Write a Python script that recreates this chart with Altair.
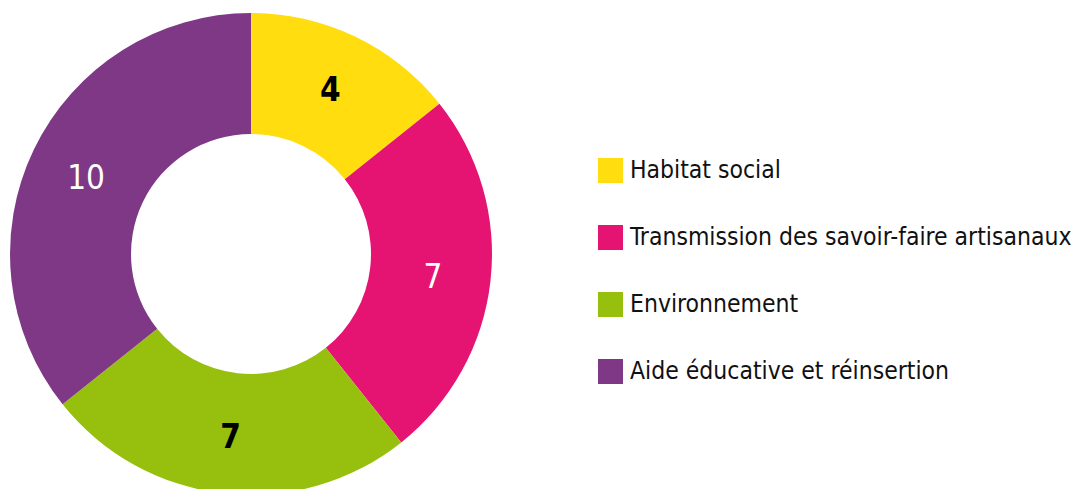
import altair as alt
import pandas as pd

categories = ["Habitat social", "Transmission des savoir-faire artisanaux", "Environnement", "Aide éducative et réinsertion"]
values = [4, 7, 7, 10]
colors = ["#FFDD0F", "#E51473", "#97BF0D", "#7F3886"]
label_colors = ["#000000", "#FFFFFF", "#000000", "#FFFFFF"]
label_weights = ["bold", "normal", "bold", "normal"]

df = pd.DataFrame({
    "cat": categories,
    "value": values,
    "order": list(range(len(values))),
    "tc": label_colors,
    "fw": label_weights,
})

FONT = "DejaVu Sans Condensed, sans-serif"
CX, CY = 243, 246
total = sum(values)

base = alt.Chart(df)

arcs = base.mark_arc(outerRadius=241, innerRadius=120, stroke=None).encode(
    theta=alt.Theta("value:Q", stack=True, scale=alt.Scale(domain=[0, total])),
    order=alt.Order("order:O"),
    color=alt.Color(
        "cat:N",
        scale=alt.Scale(domain=categories, range=colors),
        sort=None,
        legend=alt.Legend(
            title=None,
            orient="none",
            legendX=590,
            legendY=150,
            symbolType="square",
            symbolSize=625,
            symbolStrokeWidth=0,
            symbolOpacity=1,
            labelFont=FONT,
            labelFontSize=24.5,
            labelColor="#111111",
            labelOffset=7,
            rowPadding=41,
            labelLimit=600,
        ),
    ),
    x=alt.value(CX),
    y=alt.value(CY),
)

stacked = base.transform_window(
    cum="sum(value)", sort=[alt.SortField("order")], frame=[None, 0]
).transform_calculate(mid="datum.cum - datum.value / 2")

text_bold = stacked.transform_filter(alt.datum.fw == "bold").mark_text(
    radius=183, font=FONT, fontSize=33, fontWeight="bold", baseline="middle", align="center", dy=2
).encode(
    theta=alt.Theta("mid:Q", stack=False),
    text=alt.Text("value:Q"),
    color=alt.Color("tc:N", scale=None),
    x=alt.value(CX),
    y=alt.value(CY),
)

text_norm = stacked.transform_filter(alt.datum.fw == "normal").mark_text(
    radius=183, font=FONT, fontSize=33, fontWeight="normal", baseline="middle", align="center", dy=4
).encode(
    theta=alt.Theta("mid:Q", stack=False),
    text=alt.Text("value:Q"),
    color=alt.Color("tc:N", scale=None),
    x=alt.value(CX),
    y=alt.value(CY),
)

chart = alt.layer(arcs, text_bold, text_norm).properties(
    width=1074, height=481, padding=0, autosize=alt.AutoSizeParams(type="none")
).configure_view(stroke=None).resolve_scale(color="independent")

chart.save("out.html", embed_options={"renderer": "svg", "actions": False})
